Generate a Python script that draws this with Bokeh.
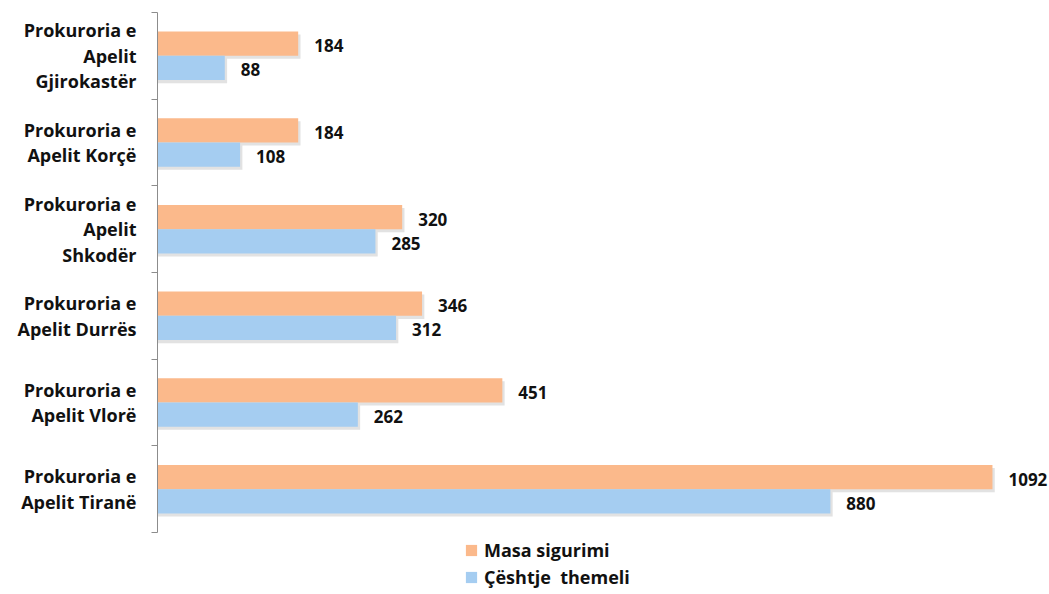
from bokeh.plotting import figure
from bokeh.models import (ColumnDataSource, Range1d, FixedTicker, LabelSet, Legend, LegendItem)
from bokeh.core.properties import value
from bokeh.embed import file_html
from bokeh.resources import INLINE

# data (top-to-bottom order as shown)
categories = ["Prokuroria e\nApelit\nGjirokastër", "Prokuroria e\nApelit Korçë",
              "Prokuroria e\nApelit\nShkodër", "Prokuroria e\nApelit Durrës",
              "Prokuroria e\nApelit Vlorë", "Prokuroria e\nApelit Tiranë"]
masa_sigurimi = [184, 184, 320, 346, 451, 1092]
ceshtje_themeli = [88, 108, 285, 312, 262, 880]
series_names = ["Masa sigurimi", "Çështje  themeli"]

n = len(categories)
pos = [n - 0.5 - i for i in range(n)]  # category centres, top first

ORANGE = "#FBB98B"
BLUE = "#A5CDF1"
FONT = "Open Sans"
OFF = 0.14
H = 0.28

src = ColumnDataSource(dict(
    pos=pos,
    y_m=[p_ + OFF for p_ in pos],
    y_t=[p_ - OFF for p_ in pos],
    ys_m=[p_ + OFF - 0.035 for p_ in pos],
    ys_t=[p_ - OFF - 0.035 for p_ in pos],
    m=masa_sigurimi,
    t=ceshtje_themeli,
    ms=[v + 3 for v in masa_sigurimi],
    ts=[v + 3 for v in ceshtje_themeli],
    ml=[str(v) for v in masa_sigurimi],
    tl=[str(v) for v in ceshtje_themeli],
))

p = figure(width=1049, height=594, output_backend="svg", toolbar_location=None,
           x_range=Range1d(0, 1166.6), y_range=Range1d(-0.715, n),
           min_border_left=157, min_border_top=12, min_border_right=0, min_border_bottom=0)
p.outline_line_color = None
p.xgrid.visible = False
p.ygrid.visible = False
p.xaxis.visible = False

# shadows
p.hbar(y="ys_m", right="ms", left=0, height=H, source=src, color="#8a8a8a", alpha=0.25, line_color=None)
p.hbar(y="ys_t", right="ts", left=0, height=H, source=src, color="#8a8a8a", alpha=0.25, line_color=None)

r1 = p.hbar(y="y_m", right="m", left=0, height=H, source=src, color=ORANGE, line_color=None)
r2 = p.hbar(y="y_t", right="t", left=0, height=H, source=src, color=BLUE, line_color=None)

common = dict(x_offset=16, text_font=value(FONT), text_font_style="bold", text_font_size="17px",
              text_color="#111111", text_baseline="middle")
p.add_layout(LabelSet(x="m", y="y_m", text="ml", source=src, y_offset=-2, **common))
p.add_layout(LabelSet(x="t", y="y_t", text="tl", source=src, y_offset=-2, **common))

yax = p.yaxis[0]
yax.bounds = (0, n)
yax.ticker = FixedTicker(ticks=pos, minor_ticks=list(range(n + 1)))
yax.major_label_overrides = {p_: c for p_, c in zip(pos, categories)}
yax.major_tick_line_color = None
yax.major_tick_out = 0
yax.major_tick_in = 0
yax.minor_tick_out = 6
yax.minor_tick_in = 0
yax.minor_tick_line_color = "#8c8c8c"
yax.axis_line_color = "#8c8c8c"
yax.major_label_text_font = FONT
yax.major_label_text_font_style = "bold"
yax.major_label_text_font_size = "18px"
yax.major_label_text_line_height = 1.06
yax.major_label_text_color = "#111111"
yax.major_label_text_align = "center"
yax.major_label_standoff = 15

legend = Legend(items=[LegendItem(label=series_names[0], renderers=[r1]),
                       LegendItem(label=series_names[1], renderers=[r2])],
                orientation="vertical", location=(307, 5),
                label_text_font=FONT, label_text_font_style="bold", label_text_font_size="18px",
                label_text_color="#111111", border_line_color=None, background_fill_alpha=0,
                glyph_width=14, glyph_height=14, label_height=20, spacing=3, padding=2, margin=0,
                label_standoff=6)
p.add_layout(legend, "center")

open("out.html", "w").write(file_html(p, INLINE))
